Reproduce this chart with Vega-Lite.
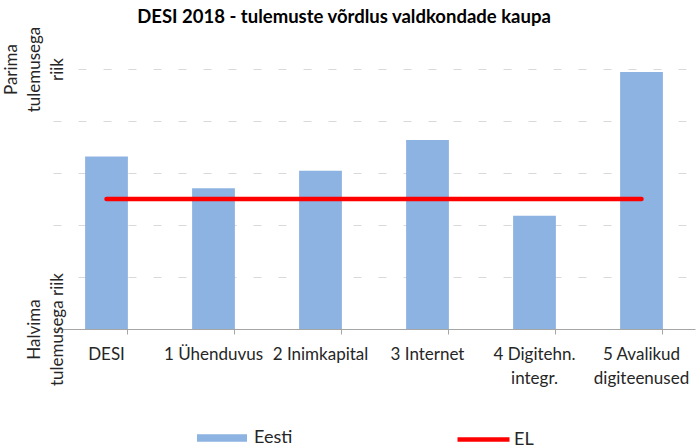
{
  "$schema": "https://vega.github.io/schema/vega-lite/v6.json",
  "width": 642,
  "height": 260,
  "autosize": {"type": "none"},
  "padding": {"left": 53, "top": 69, "right": 2, "bottom": 119},
  "background": "white",
  "config": {
    "font": "Lato",
    "view": {"stroke": null},
    "axisY": {
      "labelAngle": 270,
      "labelAlign": "center",
      "labelBaseline": "bottom",
      "labelFont": "Lato",
      "labelFontSize": 17,
      "labelLineHeight": 23,
      "labelColor": "#262626",
      "labelPadding": 33,
      "labelFlush": false,
      "labelOverlap": false,
      "labelBound": false,
      "labelLimit": 0,
      "ticks": false,
      "tickSize": 0,
      "domain": false,
      "grid": true,
      "gridColor": "#D9D9D9",
      "gridDash": [8, 17],
      "gridWidth": 1
    },
    "axisX": {
      "labelAngle": 0,
      "labelFont": "Lato",
      "labelFontSize": 17,
      "labelColor": "#262626",
      "labelBaseline": "top",
      "labelLineHeight": 24,
      "labelPadding": 12,
      "labelLimit": 0,
      "labelOverlap": false,
      "tickSize": 5,
      "tickColor": "#A6A6A6",
      "domainColor": "#A6A6A6",
      "grid": false
    }
  },
  "title": {
    "text": "DESI 2018 -  tulemuste võrdlus valdkondade kaupa",
    "font": "Lato",
    "fontSize": 18.5,
    "fontWeight": "bold",
    "color": "#000000",
    "anchor": "middle",
    "baseline": "alphabetic",
    "offset": 2,
    "dx": -30,
    "dy": 17
  },
  "data": {
    "values": [
      {"valdkond": "DESI", "eesti": 66.3, "el": 50},
      {"valdkond": "1 Ühenduvus", "eesti": 54.1, "el": 50},
      {"valdkond": "2 Inimkapital", "eesti": 60.9, "el": 50},
      {"valdkond": "3 Internet", "eesti": 72.7, "el": 50},
      {"valdkond": "4 Digitehn.|integr.", "eesti": 43.6, "el": 50},
      {"valdkond": "5 Avalikud|digiteenused", "eesti": 98.8, "el": 50}
    ]
  },
  "encoding": {
    "x": {
      "field": "valdkond",
      "type": "nominal",
      "sort": null,
      "scale": {"paddingInner": 0.6, "paddingOuter": 0.3},
      "axis": {
        "title": null,
        "labelExpr": "split(datum.label, '|')",
        "bandPosition": 1
      }
    }
  },
  "layer": [
    {
      "mark": {"type": "bar"},
      "encoding": {
        "y": {
          "field": "eesti",
          "type": "quantitative",
          "scale": {"domain": [0, 100], "nice": false},
          "axis": {
            "title": null,
            "values": [0, 20, 40, 60, 80, 100],
            "labelExpr": "datum.value == 100 ? ['Parima', 'tulemusega', 'riik'] : datum.value == 0 ? ['', 'Halvima', 'tulemusega riik'] : ''"
          }
        },
        "fill": {
          "datum": "Eesti",
          "type": "nominal",
          "scale": {"range": ["#8DB3E2"]},
          "legend": {
            "title": null,
            "orient": "none",
            "legendX": 144,
            "legendY": 344,
            "symbolType": "M-1,-0.15H1V0.15H-1Z",
            "symbolSize": 2500,
            "symbolStrokeWidth": 0,
            "labelFont": "Lato",
            "labelFontSize": 18,
            "labelColor": "#262626",
            "labelOffset": 7
          }
        }
      }
    },
    {
      "mark": {"type": "line", "strokeWidth": 4.5, "strokeCap": "round"},
      "encoding": {
        "y": {"field": "el", "type": "quantitative", "title": null},
        "stroke": {
          "datum": "EL",
          "type": "nominal",
          "scale": {"range": ["#FF0000"]},
          "legend": {
            "title": null,
            "orient": "none",
            "legendX": 402,
            "legendY": 342,
            "symbolType": "stroke",
            "symbolSize": 2704,
            "symbolStrokeWidth": 4.5,
            "labelFont": "Lato",
            "labelFontSize": 18,
            "labelColor": "#262626",
            "labelOffset": 2
          }
        }
      }
    }
  ]
}
